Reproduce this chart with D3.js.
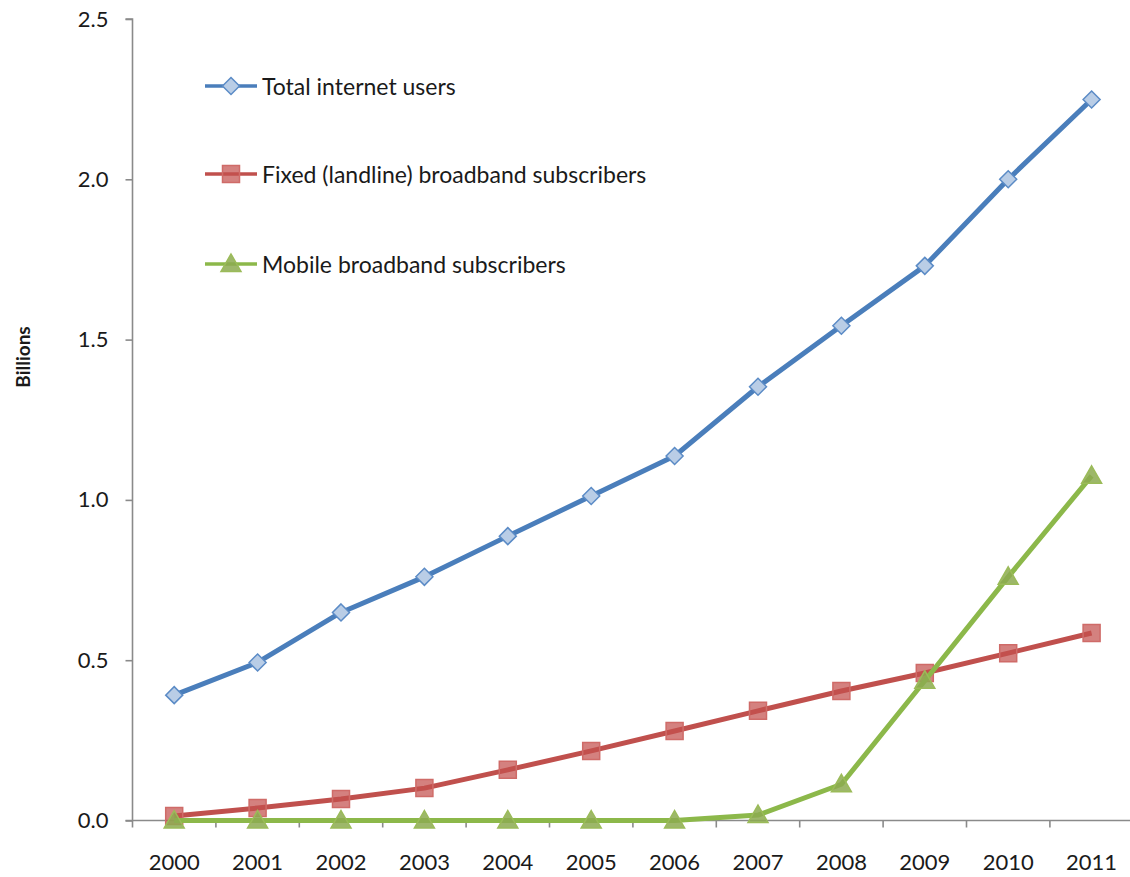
<!DOCTYPE html>
<html>
<head>
<meta charset="utf-8">
<script src="https://cdn.jsdelivr.net/npm/d3@7"></script>
<style>
  html, body { margin: 0; padding: 0; background: #fff; }
  svg { display: block; }
  text { font-family: Lato, "Open Sans", sans-serif; fill: #1a1a1a; }
</style>
</head>
<body>
<svg id="chart" width="1130" height="877"></svg>
<script>
// Years on the category axis
const years = ["2000","2001","2002","2003","2004","2005","2006","2007","2008","2009","2010","2011"];

// Billions of people / subscriptions
const totalUsers  = [0.391, 0.493, 0.649, 0.760, 0.887, 1.012, 1.137, 1.353, 1.543, 1.730, 2.000, 2.249];
const fixedBB     = [0.014, 0.039, 0.067, 0.101, 0.158, 0.217, 0.279, 0.342, 0.404, 0.460, 0.522, 0.585];
const mobileBB    = [0.000, 0.000, 0.000, 0.000, 0.000, 0.000, 0.000, 0.017, 0.113, 0.436, 0.760, 1.075];

const yTicks = [0, 0.5, 1.0, 1.5, 2.0, 2.5];

const seriesNames = ["Total internet users", "Fixed (landline) broadband subscribers", "Mobile broadband subscribers"];

const series = [
  { name: seriesNames[0], values: totalUsers, line: "#4a7ebb", fill: "#b9cde6", stroke: "#5b8bc6", shape: "diamond" },
  { name: seriesNames[1], values: fixedBB,    line: "#c0504d", fill: "rgba(196,80,77,0.72)", stroke: "#cf6b68", shape: "square" },
  { name: seriesNames[2], values: mobileBB,   line: "#8cb84a", fill: "rgba(140,170,80,0.85)", stroke: "#9bbb59", shape: "triangle" }
];

const svg = d3.select("#chart");

const axisLeftX = 132.5;
const x = d3.scaleBand().domain(years).range([axisLeftX, axisLeftX + 12 * 83.4]);
const y = d3.scaleLinear().domain([0, 2.5]).range([820.5, 19]);
const cx = d => x(d) + x.bandwidth() / 2;

const axisColor = "#8a8a8a";
const tickFont = "22px";

// Y axis
const yAxis = svg.append("g")
  .attr("transform", `translate(${axisLeftX},0)`)
  .call(d3.axisLeft(y).tickValues(yTicks).tickFormat(d3.format(".1f")).tickSize(7).tickPadding(17));
yAxis.select(".domain").attr("stroke", axisColor).attr("stroke-width", 1.6).attr("d", `M-7,${y(2.5)}H0V${y(0)}`);
yAxis.selectAll(".tick line").attr("stroke", axisColor).attr("stroke-width", 1.6);
yAxis.selectAll(".tick text").style("font-size", tickFont).attr("fill", "#1a1a1a").style("font-family", "Lato, 'Open Sans', sans-serif");

// X axis: baseline, boundary ticks between categories, centred labels
const xAxis = svg.append("g").attr("transform", `translate(0,${y(0)})`);
xAxis.append("line")
  .attr("x1", axisLeftX - 7).attr("x2", 1130)
  .attr("y1", 0).attr("y2", 0)
  .attr("stroke", axisColor).attr("stroke-width", 1.6);
const boundaries = years.map(d => x(d)).concat([x(years[years.length - 1]) + x.bandwidth()]);
xAxis.selectAll("line.bt").data(boundaries).join("line")
  .attr("class", "bt")
  .attr("x1", d => d).attr("x2", d => d)
  .attr("y1", 0).attr("y2", 7)
  .attr("stroke", axisColor).attr("stroke-width", 1.6);
xAxis.selectAll("text.xl").data(years).join("text")
  .attr("class", "xl")
  .attr("x", d => cx(d))
  .attr("y", 49)
  .attr("text-anchor", "middle")
  .style("font-size", tickFont)
  .text(d => d);

// Y axis title
svg.append("text")
  .attr("transform", `translate(30,357) rotate(-90)`)
  .attr("text-anchor", "middle")
  .style("font-size", "19px")
  .style("font-weight", "bold")
  .text("Billions");

// Marker shapes
function markerPath(shape) {
  if (shape === "diamond") return "M0,-8.5L8.5,0L0,8.5L-8.5,0Z";
  if (shape === "square") return "M-8.5,-8.5H8.5V8.5H-8.5Z";
  return "M0,-10L10,7.5H-10Z";
}

const line = d3.line().x((d, i) => cx(years[i])).y(d => y(d));

series.forEach(s => {
  const g = svg.append("g");
  g.append("path")
    .attr("d", line(s.values))
    .attr("fill", "none")
    .attr("stroke", s.line)
    .attr("stroke-width", 5)
    .attr("stroke-linejoin", "round");
  g.selectAll("path.m").data(s.values).join("path")
    .attr("class", "m")
    .attr("transform", (d, i) => `translate(${cx(years[i])},${y(d)})`)
    .attr("d", markerPath(s.shape))
    .attr("fill", s.fill)
    .attr("stroke", s.stroke)
    .attr("stroke-width", 1.5);
});

// Legend
const legendY = [86, 174, 264];
series.forEach((s, i) => {
  const g = svg.append("g").attr("transform", `translate(0,${legendY[i]})`);
  g.append("line")
    .attr("x1", 205).attr("x2", 257)
    .attr("y1", 0).attr("y2", 0)
    .attr("stroke", s.line).attr("stroke-width", 3.5);
  g.append("path")
    .attr("transform", "translate(231,0)")
    .attr("d", markerPath(s.shape))
    .attr("fill", s.fill)
    .attr("stroke", s.stroke)
    .attr("stroke-width", 1.5);
  g.append("text")
    .attr("x", 262)
    .attr("y", 8.5)
    .style("font-size", "23px")
    .text(s.name);
});
</script>
</body>
</html>
